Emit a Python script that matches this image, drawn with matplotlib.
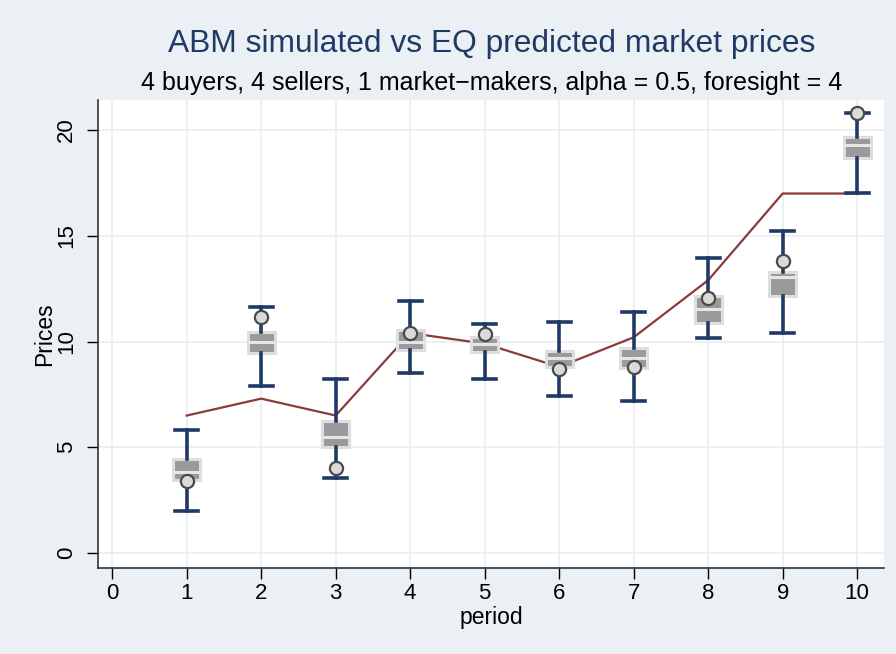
import matplotlib
matplotlib.use("Agg")
import matplotlib.pyplot as plt

# values
periods = [1, 2, 3, 4, 5, 6, 7, 8, 9, 10]
whisker_lo = [1.99, 7.90, 3.55, 8.51, 8.23, 7.42, 7.19, 10.17, 10.40, 17.02]
q1 = [3.45, 9.46, 5.01, 9.60, 9.50, 8.79, 8.75, 10.87, 12.15, 18.68]
median = [3.83, 9.98, 5.48, 9.98, 9.88, 9.22, 9.22, 11.54, 13.05, 19.29]
q3 = [4.44, 10.45, 6.24, 10.54, 10.20, 9.55, 9.69, 12.15, 13.29, 19.67]
whisker_hi = [5.82, 11.63, 8.23, 11.91, 10.83, 10.92, 11.39, 13.95, 15.22, 20.80]
abm_point = [3.40, 11.16, 4.02, 10.40, 10.35, 8.70, 8.79, 12.06, 13.81, 20.80]
eq_price = [6.5, 7.3, 6.5, 10.4, 9.9, 8.8, 10.2, 12.9, 17.0, 17.0]
x_ticks = [0, 1, 2, 3, 4, 5, 6, 7, 8, 9, 10]
y_ticks = [0, 5, 10, 15, 20]

navy = "#1f3a66"
bg = "#eaf0f3"

plt.rcParams["font.family"] = ["Liberation Sans", "DejaVu Sans"]

fig = plt.figure(figsize=(8.96, 6.54), dpi=100, facecolor=bg)
ax = fig.add_axes([0.1094, 0.1315, 0.8772, 0.7155])
ax.set_facecolor("white")

stats = []
for i in range(len(periods)):
    stats.append({"whislo": whisker_lo[i], "q1": q1[i], "med": median[i],
                  "q3": q3[i], "whishi": whisker_hi[i], "fliers": []})

ax.plot(periods, eq_price, color="#8b3a3a", lw=1.6, zorder=2)

ax.bxp(stats, positions=periods, widths=0.36, patch_artist=True,
       showfliers=False, capwidths=0.31, manage_ticks=False,
       boxprops=dict(facecolor="#9a9a9a", edgecolor="#dedede", linewidth=2.2),
       medianprops=dict(color="#e6e6e6", linewidth=2.2),
       whiskerprops=dict(color=navy, linewidth=2.6),
       capprops=dict(color=navy, linewidth=2.6),
       zorder=3)

ax.scatter(periods, abm_point, s=90, facecolor="#dadada", edgecolor="#4a4a4a",
           linewidth=1.6, zorder=5)

ax.set_xlim(-0.19, 10.36)
ax.set_ylim(-0.71, 21.42)
ax.set_xticks(x_ticks)
ax.set_xticklabels([str(v) for v in x_ticks])
ax.set_yticks(y_ticks)
ax.set_yticklabels([str(v) for v in y_ticks], rotation=90, va="center")
ax.tick_params(axis="both", labelsize=16, colors="black", length=8, width=1)
ax.tick_params(axis="y", pad=7)
ax.tick_params(axis="x", pad=3)
ax.grid(True, color="#e6edf1", lw=1.2)
ax.set_axisbelow(True)

for s in ["top", "right"]:
    ax.spines[s].set_visible(False)
for s in ["left", "bottom"]:
    ax.spines[s].set_color("#333333")
    ax.spines[s].set_linewidth(1.2)

ax.set_xlabel("period", fontsize=16.5, labelpad=1)
ax.set_ylabel("Prices", fontsize=16.5, labelpad=0)

fig.text(0.5486, 0.932, "ABM simulated vs EQ predicted market prices",
         ha="center", va="center", fontsize=22.9, color=navy)
fig.text(0.5486, 0.873, "4 buyers, 4 sellers, 1 market\u2212makers, alpha = 0.5, foresight = 4",
         ha="center", va="center", fontsize=18, color="black")

fig.savefig("out.png", dpi=100, facecolor=bg)
